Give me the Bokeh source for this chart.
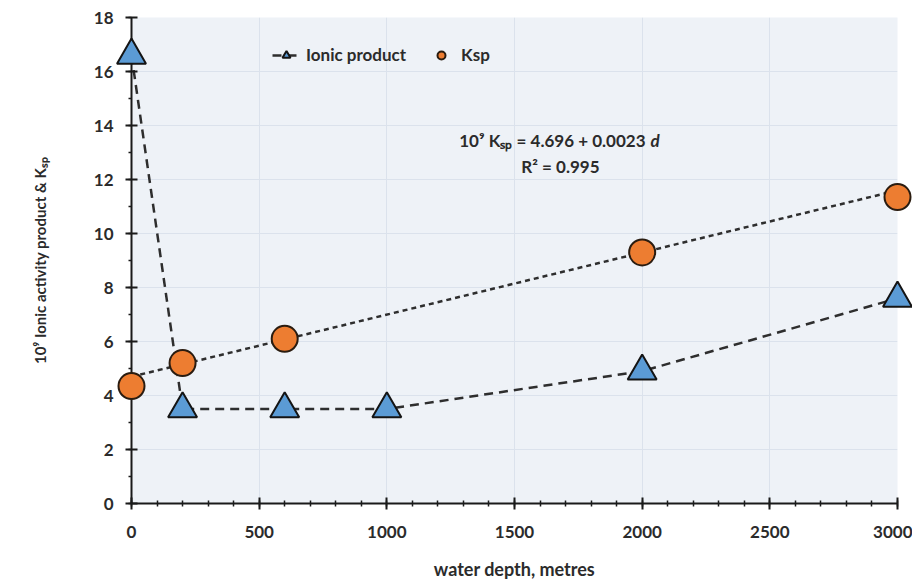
from bokeh.plotting import figure
from bokeh.models import Range1d, Label, Legend, LegendItem, SingleIntervalTicker
from bokeh.embed import file_html
from bokeh.resources import INLINE

# ---- data ----
depth_ionic = [0, 200, 600, 1000, 2000, 3000]
ionic_product = [16.6, 3.5, 3.5, 3.5, 4.9, 7.6]

depth_ksp = [0, 200, 600, 2000, 3000]
ksp = [4.35, 5.2, 6.1, 9.3, 11.35]

fit_intercept = 4.696
fit_slope = 0.0023
fit_depth = [0, 3000]
fit_ksp = [fit_intercept + fit_slope * d for d in fit_depth]

x_major = 500
y_major = 2

FONT = "Lato"
TEXT = "#2b2b2b"

p = figure(width=912, height=582, output_backend="svg", toolbar_location=None,
           x_range=Range1d(0, 3000), y_range=Range1d(0, 18),
           min_border_left=131, min_border_right=15, min_border_top=17, min_border_bottom=77)

p.background_fill_color = "#eef2f7"
p.border_fill_color = "white"
p.outline_line_color = None

# axes
p.xaxis.ticker = SingleIntervalTicker(interval=x_major, num_minor_ticks=5)
p.yaxis.ticker = SingleIntervalTicker(interval=y_major, num_minor_ticks=2)
for ax in (p.xaxis[0], p.yaxis[0]):
    ax.axis_line_color = "#1a1a1a"
    ax.axis_line_width = 2
    ax.major_tick_line_color = "#1a1a1a"
    ax.major_tick_line_width = 2
    ax.minor_tick_line_color = "#1a1a1a"
    ax.minor_tick_line_width = 1.5
    ax.major_label_text_font = FONT
    ax.major_label_text_font_style = "bold"
    ax.major_label_text_font_size = "17px"
    ax.major_label_text_color = TEXT
    ax.axis_label_text_font = FONT
    ax.axis_label_text_font_style = "bold"
    ax.axis_label_text_color = TEXT

p.xaxis.major_tick_in = 6
p.xaxis.major_tick_out = 6
p.xaxis.minor_tick_in = 3
p.xaxis.minor_tick_out = 3
p.xaxis.major_label_standoff = 16
p.xaxis.axis_label = "water depth, metres"
p.xaxis.axis_label_text_font_size = "18px"
p.xaxis.axis_label_standoff = 17

p.yaxis.major_tick_in = 6
p.yaxis.major_tick_out = 6
p.yaxis.minor_tick_in = 0
p.yaxis.minor_tick_out = 3
p.yaxis.major_label_standoff = 12
p.yaxis.axis_label = "10\u2079 Ionic activity product & K\u209b\u209a"
p.yaxis.axis_label_text_font_size = "15px"
p.yaxis.axis_label_standoff = 42

# grid
p.xgrid.ticker = SingleIntervalTicker(interval=x_major)
p.ygrid.ticker = SingleIntervalTicker(interval=y_major)
p.xgrid.grid_line_color = "#dbe2ec"
p.ygrid.grid_line_color = "#dbe2ec"
p.xgrid.grid_line_width = 1
p.ygrid.grid_line_width = 1

# lines
fit_line = p.line(fit_depth, fit_ksp, line_color="#2e2e2e", line_width=2.5, line_dash="5 4")
ionic_line = p.line(depth_ionic, ionic_product, line_color="#2e2e2e", line_width=2.5, line_dash="9 6")

# markers (overlay level so that edge markers are drawn over the axes, not cut)
ionic_pts = p.scatter(depth_ionic, ionic_product, marker="triangle", size=29,
                      fill_color="#5b9bd5", line_color="#141414", line_width=2, level="overlay")
ksp_pts = p.scatter(depth_ksp, ksp, marker="circle", size=26,
                    fill_color="#ed7d31", line_color="#2a1c10", line_width=2, level="overlay")

legend = Legend(items=[LegendItem(label="Ionic product", renderers=[ionic_line, ionic_pts]),
                       LegendItem(label="Ksp", renderers=[ksp_pts])],
                orientation="horizontal", location=(141, 438),
                border_line_color=None, background_fill_alpha=0,
                label_text_font=FONT, label_text_font_style="bold",
                label_text_font_size="17px", label_text_color=TEXT,
                glyph_width=28, glyph_height=20, label_standoff=6, spacing=21,
                padding=0, margin=0)
p.add_layout(legend)

# equation annotation
eq_style = dict(text_font=FONT, text_font_style="bold", text_font_size="17px",
                text_color=TEXT, text_baseline="middle")
p.add_layout(Label(x=2013, y=13.43, text="10\u2079 K\u209b\u209a = 4.696 + 0.0023",
                   text_align="right", **eq_style))
eq_d = dict(eq_style)
eq_d["text_font_style"] = "bold italic"
p.add_layout(Label(x=2033, y=13.43, text="d", text_align="left", **eq_d))
p.add_layout(Label(x=1680, y=12.47, text="R\u00b2 = 0.995", text_align="center", **eq_style))

open("out.html", "w").write(file_html(p, INLINE))
